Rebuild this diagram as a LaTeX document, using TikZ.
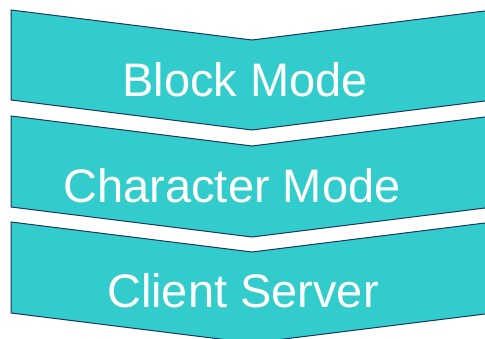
\documentclass[tikz,border=0pt]{standalone}
\usepackage{fontspec}
\setmainfont{Liberation Sans}
\definecolor{chevfill}{RGB}{51,204,204}
\definecolor{chevline}{RGB}{23,55,94}
\tikzset{
  chevron/.style={fill=chevfill, draw=chevline, line width=1pt, line join=miter},
  label/.style={text=white, font=\fontsize{47}{51}\selectfont, anchor=base, inner sep=0pt}
}
\begin{document}
\begin{tikzpicture}[x=1pt,y=-1pt]
\useasboundingbox (0,0) rectangle (485,339);
\clip (0,0) rectangle (485,339);
\foreach \t/\h in {10/90, 116/91, 222/91}{
  \draw[chevron] (11,\t) -- (252,\t+30) -- (493,\t) -- (493,\t+\h) -- (252,\t+\h+30) -- (11,\t+\h) -- cycle;
}
\node[label] (block) at (245,97) {Block Mode};
\node[label] (char) at (232,203) {Character Mode};
\node[label] (client) at (243,308) {Client Server};
\end{tikzpicture}
\end{document}
